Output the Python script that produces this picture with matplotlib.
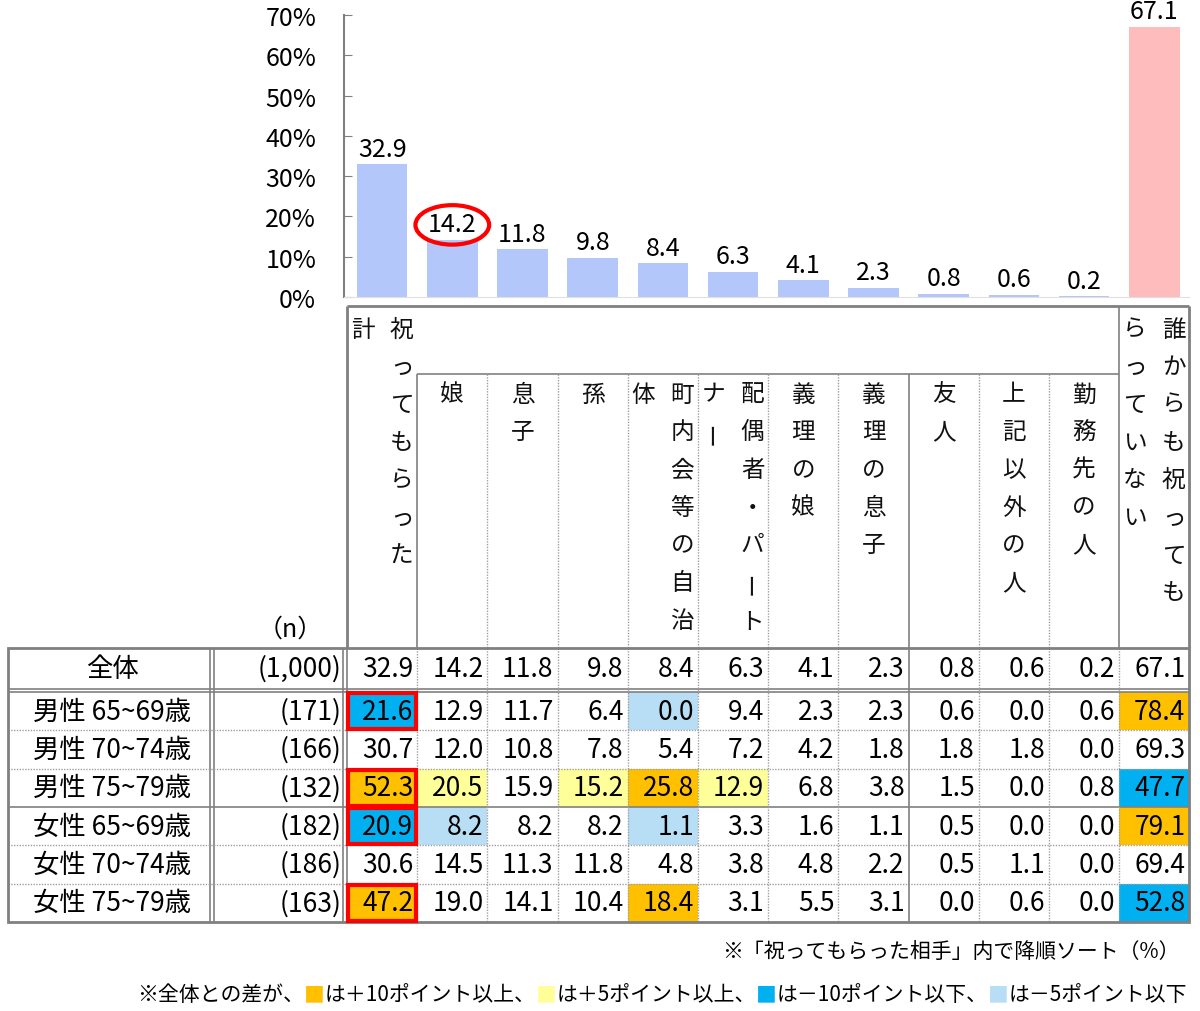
import matplotlib.pyplot as plt
from matplotlib.patches import Rectangle, Ellipse

plt.rcParams['font.family'] = ['Noto Sans CJK JP', 'DejaVu Sans']

# --- data ---
headers = ['祝ってもらった\n計', '娘', '息子', '孫', '町内会等の自治\n体', '配偶者・パート\nナー',
           '義理の娘', '義理の息子', '友人', '上記以外の人', '勤務先の人', '誰からも祝っても\nらっていない']
total = [32.9, 14.2, 11.8, 9.8, 8.4, 6.3, 4.1, 2.3, 0.8, 0.6, 0.2, 67.1]
groups = ['全体', '男性 65~69歳', '男性 70~74歳', '男性 75~79歳', '女性 65~69歳', '女性 70~74歳', '女性 75~79歳']
n_labels = ['(1,000)', '(171)', '(166)', '(132)', '(182)', '(186)', '(163)']
m6569 = [21.6, 12.9, 11.7, 6.4, 0.0, 9.4, 2.3, 2.3, 0.6, 0.0, 0.6, 78.4]
m7074 = [30.7, 12.0, 10.8, 7.8, 5.4, 7.2, 4.2, 1.8, 1.8, 1.8, 0.0, 69.3]
m7579 = [52.3, 20.5, 15.9, 15.2, 25.8, 12.9, 6.8, 3.8, 1.5, 0.0, 0.8, 47.7]
f6569 = [20.9, 8.2, 8.2, 8.2, 1.1, 3.3, 1.6, 1.1, 0.5, 0.0, 0.0, 79.1]
f7074 = [30.6, 14.5, 11.3, 11.8, 4.8, 3.8, 4.8, 2.2, 0.5, 1.1, 0.0, 69.4]
f7579 = [47.2, 19.0, 14.1, 10.4, 18.4, 3.1, 5.5, 3.1, 0.0, 0.6, 0.0, 52.8]
rows = [total, m6569, m7074, m7579, f6569, f7074, f7579]

BAR_BLUE = '#b4c7fb'
BAR_PINK = '#ffbcbc'
ORANGE = '#ffc000'
YELLOW = '#ffff99'
BLUE = '#00b0f0'
LBLUE = '#b7def4'
GRAY = '#808080'
DOT = '#a0a0a0'

def cell_color(diff):
    diff = round(diff, 1)
    if diff >= 10:
        return ORANGE
    if diff >= 5:
        return YELLOW
    if diff <= -10:
        return BLUE
    if diff <= -5:
        return LBLUE
    return None

W, H = 1200, 1012
fig = plt.figure(figsize=(W / 100, H / 100), dpi=100)

# table layer in pixel coordinates
tab = fig.add_axes([0, 0, 1, 1])
tab.set_xlim(0, W)
tab.set_ylim(H, 0)
tab.axis('off')

X0, CW = 347, 70.2
ncol = len(headers)
XR = X0 + CW * ncol
LEFT = 8
HEAD_TOP, SUB_TOP, TAB_TOP = 307, 375, 649
ROW0_H, ROW_H, GAP = 41, 38.3, 3
row_tops = [TAB_TOP] + [TAB_TOP + ROW0_H + GAP + ROW_H * i for i in range(len(rows) - 1)]
row_bots = [TAB_TOP + ROW0_H] + [t + ROW_H for t in row_tops[1:]]
TAB_BOT = row_bots[-1]

def hline(y, x1, x2, ls='-', c=GRAY, lw=1.2):
    tab.plot([x1, x2], [y, y], color=c, lw=lw, ls=ls, solid_capstyle='butt')

def vline(x, y1, y2, ls='-', c=GRAY, lw=1.2):
    tab.plot([x, x], [y1, y2], color=c, lw=lw, ls=ls, solid_capstyle='butt')

# header box
hline(HEAD_TOP, X0, XR, lw=2)
vline(X0, HEAD_TOP, TAB_TOP, lw=2)
vline(XR, HEAD_TOP, TAB_TOP, lw=2)
hline(SUB_TOP, X0 + CW, X0 + CW * (ncol - 1))
for i in range(1, ncol):
    x = X0 + CW * i
    if i in (1, 8):
        vline(x, SUB_TOP, TAB_TOP)
    elif i == ncol - 1:
        vline(x, HEAD_TOP, TAB_TOP)
    else:
        vline(x, SUB_TOP, TAB_TOP, ls=(0, (1, 1)), c=DOT, lw=1)

# vertical header text
STEP = 37.7
for i, lab in enumerate(headers):
    xc = X0 + CW * (i + 0.5)
    y0 = 330 if i in (0, ncol - 1) else 395
    lines = lab.split('\n')
    k = len(lines)
    for j, line in enumerate(lines):
        x = xc + ((k - 1) / 2 - j) * 39
        for m, ch in enumerate(line):
            rot = 90 if ch == 'ー' else 0
            tab.text(x, y0 + m * STEP, ch, ha='center', va='center', fontsize=17,
                     rotation=rot, color='#111111')

tab.text(290, 630, '（n）', ha='center', va='center', fontsize=18)

# cell fills
for r in range(1, len(rows)):
    for c in range(ncol):
        col = cell_color(rows[r][c] - total[c])
        if col:
            tab.add_patch(Rectangle((X0 + CW * c, row_tops[r]), CW, row_bots[r] - row_tops[r],
                                    facecolor=col, edgecolor='none', zorder=1))

# body lines
tab.add_patch(Rectangle((LEFT, TAB_TOP), XR - LEFT, TAB_BOT - TAB_TOP, fill=False,
                        edgecolor=GRAY, lw=2, zorder=3))
for x in (210, 214, 343, 347):
    vline(x, TAB_TOP, TAB_BOT)
hline(row_bots[0], LEFT, XR)
hline(row_tops[1], LEFT, XR)
for r in range(2, len(rows)):
    if r == 4:
        hline(row_tops[r], LEFT, XR)
    else:
        hline(row_tops[r], LEFT, XR, ls=(0, (1, 1)), c=DOT, lw=1)
for i in range(1, ncol):
    x = X0 + CW * i
    if i == 8:
        vline(x, TAB_TOP, TAB_BOT)
    else:
        vline(x, TAB_TOP, TAB_BOT, ls=(0, (1, 1)), c=DOT, lw=1)

# body text
for r, vals in enumerate(rows):
    yc = (row_tops[r] + row_bots[r]) / 2
    tab.text(112, yc, groups[r], ha='center', va='center', fontsize=19, zorder=4)
    tab.text(341, yc, n_labels[r], ha='right', va='center', fontsize=19, zorder=4)
    for c, v in enumerate(vals):
        tab.text(X0 + CW * (c + 1) - 4, yc, f'{v:.1f}', ha='right', va='center',
                 fontsize=19, zorder=4)

# red outlines on first column
for r in range(1, len(rows)):
    if cell_color(rows[r][0] - total[0]):
        tab.add_patch(Rectangle((X0 + 1, row_tops[r] + 1), CW - 2, row_bots[r] - row_tops[r] - 2,
                                fill=False, edgecolor='#ff0000', lw=3, zorder=5))

# footnotes
tab.text(1180, 952, '※「祝ってもらった相手」内で降順ソート（%）', ha='right', va='center', fontsize=15)
pieces = [('※全体との差が、', 'black'), ('■', ORANGE), ('は＋10ポイント以上、', 'black'),
          ('■', YELLOW), ('は＋5ポイント以上、', 'black'), ('■', BLUE),
          ('は－10ポイント以下、', 'black'), ('■', LBLUE), ('は－5ポイント以下', 'black')]
renderer = fig.canvas.get_renderer()
objs = []
widths = []
for s, col in pieces:
    t = tab.text(0, 995, s, ha='left', va='center', fontsize=15, color=col)
    bb = t.get_window_extent(renderer)
    objs.append(t)
    widths.append(bb.width)
x = 1187 - sum(widths)
for t, w in zip(objs, widths):
    t.set_x(x)
    x += w

# bar chart
ax = fig.add_axes([344 / W, 1 - 298 / H, (XR - 344) / W, (298 - 16) / H])
ax.patch.set_alpha(0)
ax.bar(range(ncol), total, width=0.72, color=[BAR_BLUE] * (ncol - 1) + [BAR_PINK])
for i, v in enumerate(total):
    ax.text(i, v + 0.6, f'{v:.1f}', ha='center', va='bottom', fontsize=18)
ax.set_xlim(-0.5 - 3 / CW, ncol - 0.5)
ax.set_ylim(0, 70)
ax.set_yticks(range(0, 71, 10))
ax.set_yticklabels([f'{t}%' for t in range(0, 71, 10)], fontsize=18)
ax.tick_params(axis='y', direction='in', length=6, color=GRAY, pad=20)
ax.set_xticks([])
for s in ('top', 'right'):
    ax.spines[s].set_visible(False)
ax.spines['bottom'].set_color('#e0e0e0')
ax.spines['left'].set_color(GRAY)
ax.spines['left'].set_linewidth(1.5)
ax.add_patch(Ellipse((1, total[1] + 3.7), 1.05, 9.8, fill=False, edgecolor='#ff0000', lw=3,
                     clip_on=False))

fig.savefig('out.png', dpi=100)
